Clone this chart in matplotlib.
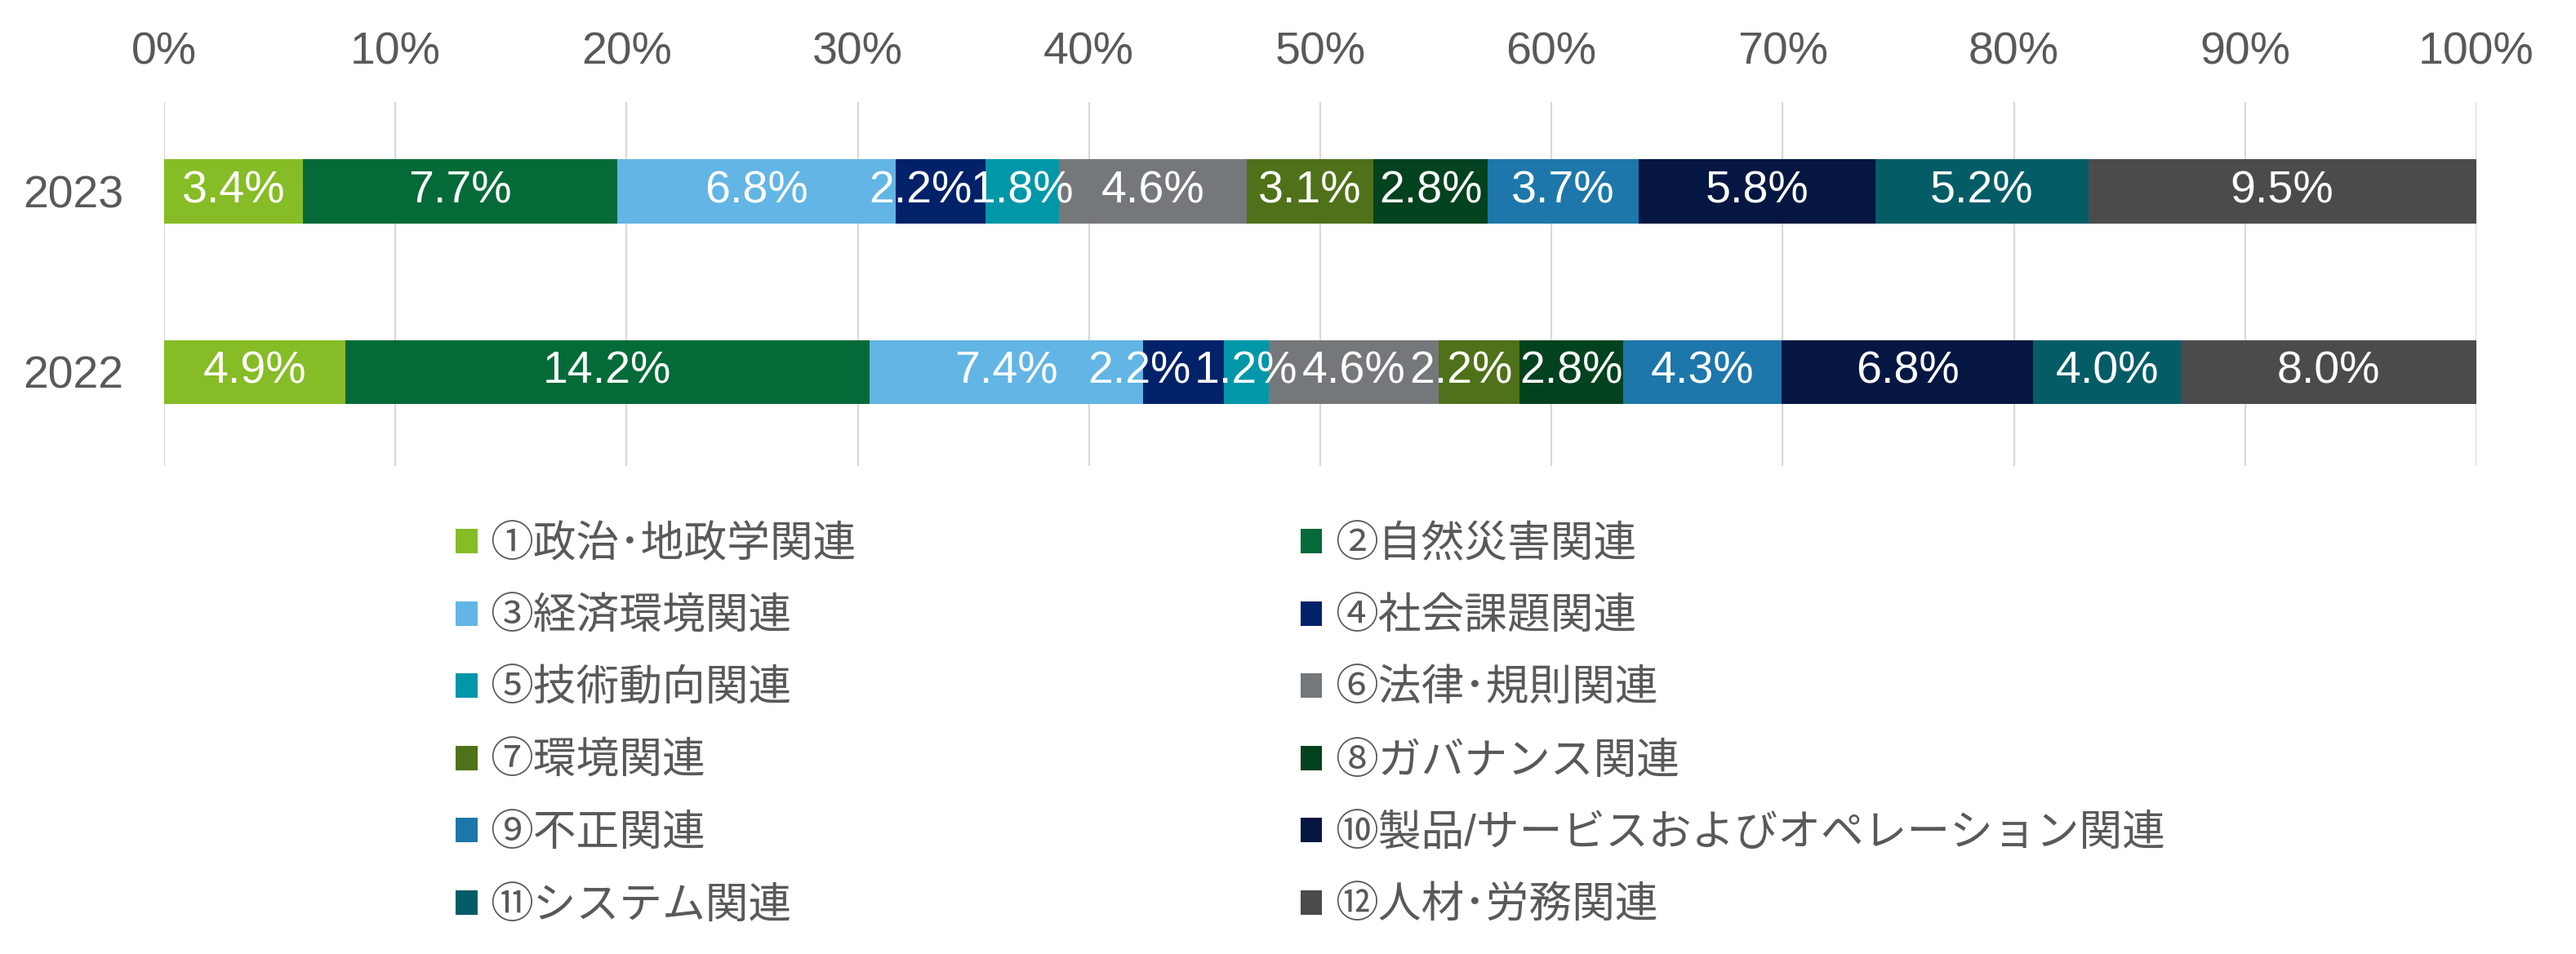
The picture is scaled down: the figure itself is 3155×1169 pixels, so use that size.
import numpy as np
import matplotlib
matplotlib.use("Agg")
import matplotlib.pyplot as plt
from matplotlib.patches import Patch

plt.rcParams['font.family'] = ['Liberation Sans', 'Noto Sans CJK JP', 'DejaVu Sans']

# ---- data ----
years = ["2022", "2023"]
categories = [
    "①政治･地政学関連", "②自然災害関連", "③経済環境関連", "④社会課題関連",
    "⑤技術動向関連", "⑥法律･規則関連", "⑦環境関連", "⑧ガバナンス関連",
    "⑨不正関連", "⑩製品/サービスおよびオペレーション関連", "⑪システム関連", "⑫人材･労務関連",
]
vals_2022 = [4.9, 14.2, 7.4, 2.2, 1.2, 4.6, 2.2, 2.8, 4.3, 6.8, 4.0, 8.0]
vals_2023 = [3.4, 7.7, 6.8, 2.2, 1.8, 4.6, 3.1, 2.8, 3.7, 5.8, 5.2, 9.5]
x_ticks = [0, 10, 20, 30, 40, 50, 60, 70, 80, 90, 100]

colors = ["#86BC25", "#046A38", "#62B5E5", "#012169", "#0097A9", "#75787B",
          "#4F7119", "#03421F", "#1D77AA", "#041641", "#045C67", "#4B4B4D"]

text_gray = "#595959"
fs = 40

# small label shifts (in % units) where the labels crowd each other
nudge = {(0, 3): -1.9, (0, 6): -0.77, (1, 3): -0.87}

# ---- plot ----
fig = plt.figure(figsize=(31.55, 11.69), dpi=100)
ax = fig.add_axes([0.0637, 0.5116, 0.8976, 0.3815])

data = np.array([vals_2022, vals_2023])
shares = data / data.sum(axis=1, keepdims=True) * 100
ypos = np.arange(len(years))
left = np.zeros(len(years))
for i in range(len(categories)):
    bars = ax.barh(ypos, shares[:, i], left=left, height=0.355,
                   color=colors[i], label=categories[i], zorder=3)
    for j, b in enumerate(bars):
        xc = left[j] + shares[j, i] / 2 + nudge.get((j, i), 0)
        ax.text(xc, ypos[j], "%.1f%%" % data[j, i],
                ha="center", va="center", color="white", fontsize=fs, zorder=4)
    left += shares[:, i]

ax.set_xlim(0, 100)
ax.set_ylim(-0.52, 1.495)
ax.set_xticks(x_ticks)
ax.set_xticklabels(["%d%%" % t for t in x_ticks])
ax.xaxis.tick_top()
ax.set_yticks(ypos)
ax.set_yticklabels(years)
ax.tick_params(axis="both", length=0, labelsize=fs, labelcolor=text_gray)
ax.tick_params(axis="x", pad=25)
ax.tick_params(axis="y", pad=36)
ax.grid(axis="x", color="#D9D9D9", linewidth=1.6, zorder=0)
for s in ax.spines.values():
    s.set_visible(False)

# legend, row-wise order like the original (two columns)
handles = [Patch(facecolor=colors[i], label=categories[i]) for i in range(len(categories))]
order = list(range(0, 12, 2)) + list(range(1, 12, 2))
leg = fig.legend([handles[i] for i in order], [categories[i] for i in order],
                 ncol=2, loc="upper left", bbox_to_anchor=(0.177, 0.450),
                 frameon=False, fontsize=38, handlelength=0.5, handleheight=0.5,
                 handletextpad=0.3, labelspacing=0.73, columnspacing=10.3,
                 borderpad=0, borderaxespad=0)
for t in leg.get_texts():
    t.set_color(text_gray)

fig.savefig("out.png", dpi=100)
